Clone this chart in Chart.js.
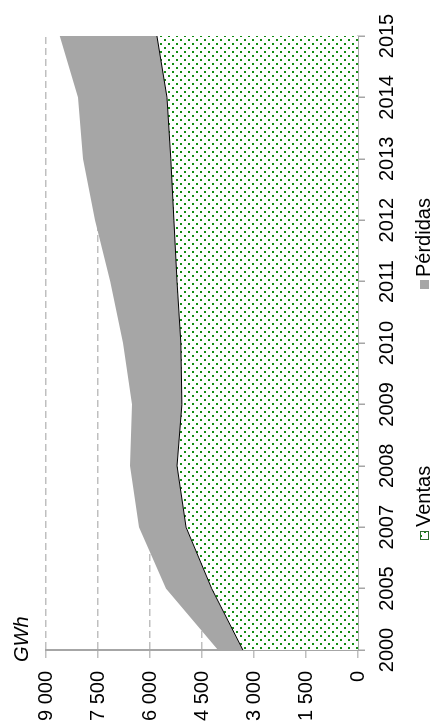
<!DOCTYPE html>
<html>
<head>
<meta charset="utf-8">
<script src="https://cdn.jsdelivr.net/npm/chart.js@4/dist/chart.umd.min.js"></script>
<style>
    html, body { margin: 0; padding: 0; background: #fff; overflow: hidden; }
    /* the chart is drawn landscape and turned a quarter turn to the left */
    #wrap {
        position: absolute; left: 0; top: 0;
        width: 725px; height: 435px;
        transform-origin: 0 0;
        transform: translate(0, 725px) rotate(-90deg);
    }
</style>
</head>
<body>
<div id="wrap"><canvas id="chart" width="725" height="435"></canvas></div>
<script>
var years = ['2000', '2005', '2007', '2008', '2009', '2010', '2011', '2012', '2013', '2014', '2015'];
var ventas = [3320, 4220, 4960, 5220, 5080, 5110, 5220, 5310, 5400, 5510, 5800];
var perdidas = [720, 1320, 1360, 1360, 1440, 1670, 1930, 2280, 2530, 2570, 2800];
var valueTicks = ['0', '1 500', '3 000', '4 500', '6 000', '7 500', '9 000'];
var seriesNames = ['Ventas', 'Pérdidas'];
var unitLabel = 'GWh';

var FONT = "'Liberation Sans', Arial, sans-serif";
var GREEN = '#138c13';
var GREY = '#a6a6a6';

// dotted fill used for Ventas
function dotPattern(ctx) {
    var tile = document.createElement('canvas');
    tile.width = 8;
    tile.height = 8;
    var t = tile.getContext('2d');
    t.fillStyle = '#fff';
    t.fillRect(0, 0, 8, 8);
    t.fillStyle = GREEN;
    t.fillRect(0, 0, 2, 2);
    t.fillRect(4, 4, 2, 2);
    return ctx.createPattern(tile, 'repeat');
}

var canvas = document.getElementById('chart');
var ctx = canvas.getContext('2d');
var dots = dotPattern(ctx);

// legend and unit label, drawn by hand to keep the wide spacing of the original
var extras = {
    id: 'extras',
    afterDraw: function (chart) {
        var c = chart.ctx;
        var area = chart.chartArea;
        c.save();
        c.fillStyle = '#000';
        c.textBaseline = 'middle';
        c.textAlign = 'left';
        c.font = 'italic 20px ' + FONT;
        c.fillText(unitLabel, area.left - 12, area.top - 24);

        c.font = '20px ' + FONT;
        var y = 424;
        // Ventas
        c.fillStyle = dots;
        c.fillRect(185, y - 4, 9, 9);
        c.strokeStyle = '#2e6b2e';
        c.lineWidth = 1;
        c.strokeRect(185.5, y - 3.5, 8, 8);
        c.fillStyle = '#000';
        c.fillText(seriesNames[0], 198, y);
        // Pérdidas
        c.fillStyle = GREY;
        c.fillRect(436, y - 4, 9, 9);
        c.fillStyle = '#000';
        c.fillText(seriesNames[1], 448, y);
        c.restore();
    }
};

new Chart(canvas, {
    type: 'line',
    data: {
        labels: years,
        datasets: [{
            label: seriesNames[0],
            data: ventas,
            fill: 'origin',
            backgroundColor: dots,
            borderColor: '#000',
            borderWidth: 1,
            pointRadius: 0,
            tension: 0
        }, {
            label: seriesNames[1],
            data: perdidas,
            fill: '-1',
            backgroundColor: GREY,
            borderColor: GREY,
            borderWidth: 0,
            pointRadius: 0,
            tension: 0
        }]
    },
    options: {
        responsive: false,
        animation: false,
        devicePixelRatio: 1,
        layout: { padding: { top: 46, right: 36, bottom: 0, left: 0 } },
        scales: {
            x: {
                offset: false,
                border: { color: GREY, width: 2 },
                grid: { drawOnChartArea: false, tickLength: 7, color: GREY, lineWidth: 1.5 },
                ticks: { color: '#000', font: { family: FONT, size: 20 }, padding: 10, maxRotation: 0, autoSkip: false },
                afterFit: function (axis) { axis.height = 77; }
            },
            y: {
                stacked: true,
                min: 0,
                max: 9000,
                // in v4 the grid lines take their dash from border.dash
                border: { color: GREY, width: 2, dash: [7, 4] },
                grid: {
                    color: '#bfbfbf',
                    lineWidth: 1.5,
                    tickLength: 8,
                    tickBorderDash: [7, 4]
                },
                ticks: {
                    stepSize: 1500,
                    color: '#000',
                    padding: 13,
                    font: { family: FONT, size: 20 },
                    callback: function (v) { return valueTicks[Math.round(v / 1500)]; }
                },
                afterFit: function (axis) { axis.width = 75; }
            }
        },
        plugins: {
            legend: { display: false },
            tooltip: { enabled: false }
        }
    },
    plugins: [extras]
});
</script>
</body>
</html>
